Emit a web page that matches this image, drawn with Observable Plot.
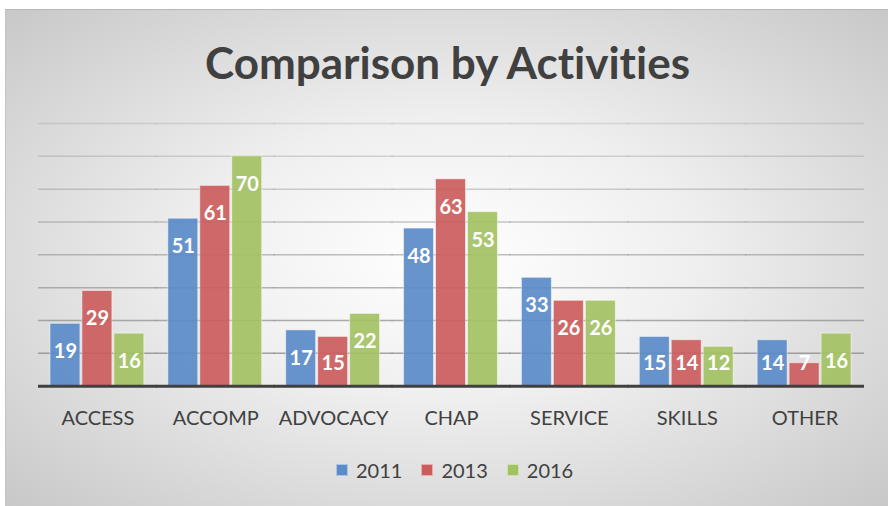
<!DOCTYPE html>
<html>
<head>
<meta charset="utf-8">
<script src="https://cdn.jsdelivr.net/npm/d3@7"></script>
<script src="https://cdn.jsdelivr.net/npm/@observablehq/plot@0.6"></script>
<style>
  html, body { margin: 0; padding: 0; background: #fff; width: 888px; height: 506px; overflow: hidden; }
  #frame {
    position: absolute; left: 5px; top: 9px; width: 883px; height: 497px;
    background: radial-gradient(ellipse farthest-corner at 50% 50%, #ffffff 0%, #efefef 40%, #c8c8c8 100%);
    border-top: 1px solid #b8b8b8; border-left: 1px solid #c4c4c4; box-sizing: border-box;
  }
  #title {
    position: absolute; left: 0; top: 26px; width: 883px; text-align: center;
    font-family: Lato, sans-serif; font-weight: bold; font-size: 44px; line-height: 52px; color: #404040;
    font-variant-ligatures: none;
  }
  #chart { position: absolute; left: 0; top: 100px; }
  #legend {
    position: absolute; left: 330px; top: 447px; display: flex; align-items: center;
    font-family: Lato, sans-serif; font-size: 20px; color: #404040; line-height: 26px;
  }
  .item { display: flex; align-items: center; margin-right: 19px; }
  .sw { width: 12px; height: 12px; margin-right: 8px; box-sizing: border-box; }
</style>
</head>
<body>
<div id="frame">
  <div id="title">Comparison by Activities</div>
  <div id="chart"></div>
  <div id="legend"></div>
</div>
<script>
const categories = ["ACCESS", "ACCOMP", "ADVOCACY", "CHAP", "SERVICE", "SKILLS", "OTHER"];
const years = ["2011", "2013", "2016"];
const values2011 = [19, 51, 17, 48, 33, 15, 14];
const values2013 = [29, 61, 15, 63, 26, 14, 7];
const values2016 = [16, 70, 22, 53, 26, 12, 16];
const gridTicks = [10, 20, 30, 40, 50, 60, 70, 80];
const colors = ["#5b8bc9", "#cc5c5c", "#a3c264"];

const series = [values2011, values2013, values2016];
const data = [];
categories.forEach((c, i) => {
  years.forEach((y, j) => data.push({cat: c, year: y, value: series[j][i]}));
});

const plot = Plot.plot({
  width: 883,
  height: 330,
  marginLeft: 31,
  marginRight: 23,
  marginTop: 13,
  marginBottom: 54,
  style: {background: "transparent", fontFamily: "Lato, sans-serif", overflow: "visible"},
  fx: {domain: categories, paddingInner: 0.18, paddingOuter: 0.09, label: null, axis: null},
  x: {domain: years, paddingInner: 0.05, paddingOuter: 0, axis: null},
  y: {domain: [0, 80], axis: null},
  color: {domain: years, range: colors},
  marks: [
    Plot.ruleY(gridTicks, {
      stroke: "#8a8a8a",
      strokeWidth: 1.5,
      insetLeft: -11,
      insetRight: -11,
      strokeOpacity: d => 0.25 + 0.6 * (1 - d / 80)
    }),
    Plot.barY(data, {
      fx: "cat", x: "year", y: "value", fill: "year",
      fillOpacity: 0.92, stroke: "#ffffff", strokeOpacity: 0.5, strokeWidth: 1, inset: 0
    }),
    Plot.text(data, {
      fx: "cat", x: "year",
      y: d => Math.max(d.value, 15.5),
      dy: 28,
      text: d => String(d.value),
      fill: "white", fontWeight: "bold", fontSize: 20
    }),
    Plot.ruleY([0], {stroke: "#404040", strokeWidth: 3, insetLeft: -11, insetRight: -11}),
    Plot.axisFx({anchor: "bottom", tickSize: 0, tickPadding: 25, fontSize: 20, fill: "#404040", label: null})
  ]
});
document.getElementById("chart").appendChild(plot);

const legend = document.getElementById("legend");
years.forEach((y, j) => {
  const item = document.createElement("div");
  item.className = "item";
  const sw = document.createElement("div");
  sw.className = "sw";
  sw.style.background = colors[j];
  sw.style.border = "1px solid rgba(255,255,255,0.5)";
  const t = document.createElement("span");
  t.textContent = y;
  item.appendChild(sw);
  item.appendChild(t);
  legend.appendChild(item);
});
</script>
</body>
</html>
